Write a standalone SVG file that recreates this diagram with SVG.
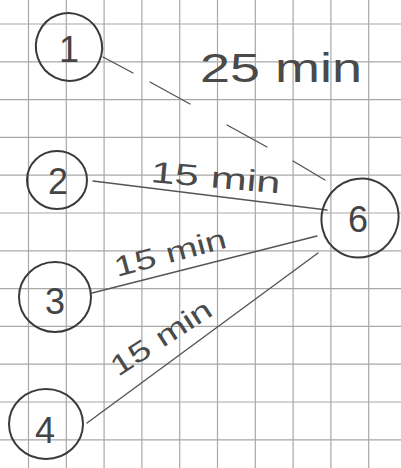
<svg xmlns="http://www.w3.org/2000/svg" width="401" height="468" viewBox="0 0 401 468">
<style>
.grid line{stroke:#a8a8a8;stroke-width:1.2}
.node ellipse{fill:none;stroke:#3a3a3a;stroke-width:2}
.node text{font-family:"Liberation Sans",Arial,sans-serif;font-size:36px;fill:#444;text-anchor:middle;dominant-baseline:central}
.lbl{font-family:"Liberation Sans",Arial,sans-serif;fill:#4a4a4a}
.edge{fill:none;stroke:#555;stroke-width:1.4;stroke-linecap:round}
</style>
<rect width="401" height="468" fill="#fff"/>
<g class="grid">
<line x1="28.5" y1="0" x2="28.5" y2="468"/>
<line x1="66.3" y1="0" x2="66.3" y2="468"/>
<line x1="104.1" y1="0" x2="104.1" y2="468"/>
<line x1="141.9" y1="0" x2="141.9" y2="468"/>
<line x1="179.7" y1="0" x2="179.7" y2="468"/>
<line x1="217.5" y1="0" x2="217.5" y2="468"/>
<line x1="255.3" y1="0" x2="255.3" y2="468"/>
<line x1="293.1" y1="0" x2="293.1" y2="468"/>
<line x1="330.9" y1="0" x2="330.9" y2="468"/>
<line x1="368.7" y1="0" x2="368.7" y2="468"/>
<line x1="0" y1="24" x2="401" y2="24"/>
<line x1="0" y1="61.8" x2="401" y2="61.8"/>
<line x1="0" y1="99.6" x2="401" y2="99.6"/>
<line x1="0" y1="137.4" x2="401" y2="137.4"/>
<line x1="0" y1="175.2" x2="401" y2="175.2"/>
<line x1="0" y1="213" x2="401" y2="213"/>
<line x1="0" y1="250.8" x2="401" y2="250.8"/>
<line x1="0" y1="288.6" x2="401" y2="288.6"/>
<line x1="0" y1="326.4" x2="401" y2="326.4"/>
<line x1="0" y1="364.2" x2="401" y2="364.2"/>
<line x1="0" y1="402" x2="401" y2="402"/>
<line x1="0" y1="439.8" x2="401" y2="439.8"/>
</g>
<g id="connectors">
<path class="edge" d="M103 57 L133 73 M150 82 L190 104 M227 125 L267 147 M293 161 L325 180"/>
<path class="edge" d="M93 181 L327 210" stroke="#333"/>
<path class="edge" d="M92 293 L317 236"/>
<path class="edge" d="M87 423 L318 253" stroke="#777"/>
<text class="lbl" x="200" y="82" font-size="40" textLength="162" lengthAdjust="spacingAndGlyphs">25 min</text>
<text class="lbl" transform="translate(150,182) rotate(5)" font-size="30" textLength="130" lengthAdjust="spacingAndGlyphs">15 min</text>
<text class="lbl" transform="translate(117,277) rotate(-15)" font-size="28" textLength="115" lengthAdjust="spacingAndGlyphs">15 min</text>
<text class="lbl" transform="translate(118,377) rotate(-33)" font-size="28" textLength="115" lengthAdjust="spacingAndGlyphs">15 min</text>
</g>
<g id="node1" class="node"><ellipse cx="69" cy="47" rx="33" ry="34" transform="rotate(-20 69 47)"/><text x="69" y="49">1</text></g>
<g id="node2" class="node"><ellipse cx="57" cy="180" rx="30" ry="29"/><text x="58" y="181">2</text></g>
<g id="node3" class="node"><ellipse cx="55" cy="297" rx="36" ry="35"/><text x="55" y="301">3</text></g>
<g id="node4" class="node"><ellipse cx="46" cy="424" rx="37" ry="35"/><text x="45" y="430">4</text></g>
<g id="node6" class="node"><ellipse cx="360" cy="218" rx="38" ry="40" transform="rotate(30 360 218)"/><text x="358" y="219">6</text></g>
</svg>
